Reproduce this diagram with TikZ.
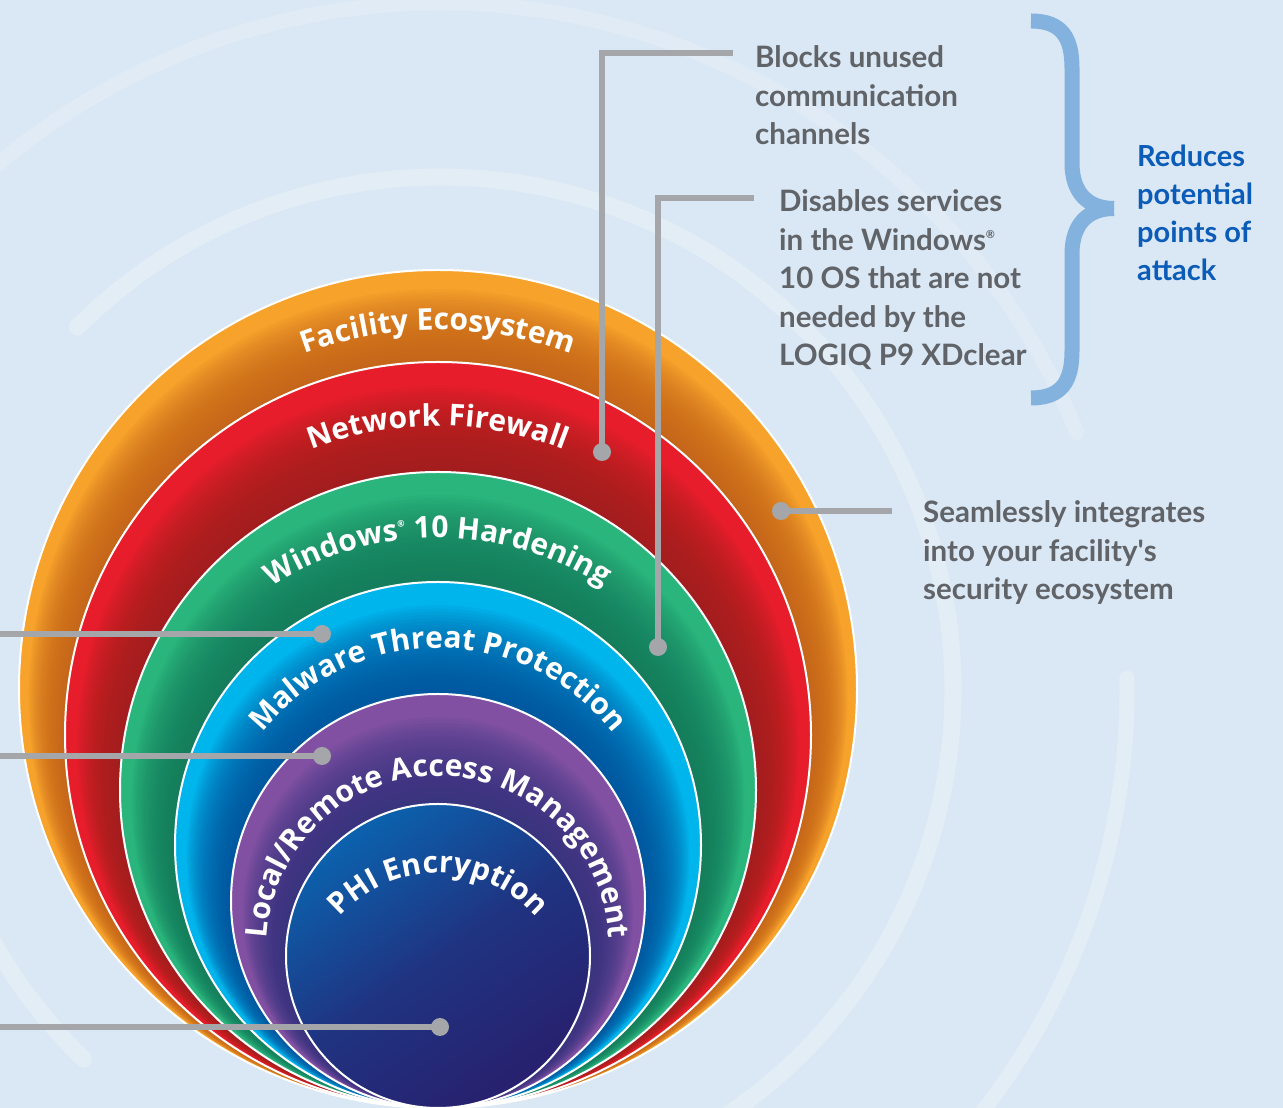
\documentclass[tikz,border=0pt]{standalone}
\usepackage{fontspec}
\setmainfont{Lato}
\newfontfamily\ringfont{Open Sans}
\usetikzlibrary{decorations.text}
\definecolor{bgc}{HTML}{DAE7F4}
\definecolor{orangeL}{HTML}{F6A22B}
\definecolor{orangeD}{HTML}{C4621A}
\definecolor{redL}{HTML}{E81D2B}
\definecolor{redD}{HTML}{9E281E}
\definecolor{greenL}{HTML}{2AB57C}
\definecolor{greenD}{HTML}{157A5C}
\definecolor{blueL}{HTML}{00B4EC}
\definecolor{blueD}{HTML}{0A4E98}
\definecolor{purpleL}{HTML}{8150A2}
\definecolor{purpleD}{HTML}{33347F}
\definecolor{navyL}{HTML}{0B62AE}
\definecolor{navyD}{HTML}{28206E}
\definecolor{lineg}{HTML}{A4A6AA}
\definecolor{textg}{HTML}{606367}
\definecolor{blueT}{HTML}{0A5CB8}
\definecolor{braceC}{HTML}{84B2DF}
\newcommand\shadelayers[3]{%
  \foreach \k in {1,...,28}{%
    \pgfmathsetmacro\myrad{#2+(#1-#2)*0.82*\k/29}%
    \fill[#3, fill opacity=0.068] (438,\myrad) circle[radius=\myrad];%
  }%
}
\newcommand\ringlabel{\ringfont\bfseries\fontsize{30}{30}\selectfont}
\begin{document}
\begin{tikzpicture}[x=1pt,y=1pt,
  conn/.style={draw=lineg, line width=5.5pt},
  dotnode/.style={circle, fill=lineg, minimum size=18pt, inner sep=0pt},
  sidetext/.style={anchor=base west, inner sep=0pt, text=textg,
    font=\bfseries\fontsize{29.5}{38.5}\selectfont},
  bluetext/.style={anchor=base west, inner sep=0pt, text=blueT,
    font=\bfseries\fontsize{29}{38}\selectfont},
  ringedge/.style={draw=white, line width=2pt},
  bgring/.style={draw=white, draw opacity=0.26, line cap=round},
  brace/.style={draw=braceC, line width=15pt},
  ringtext/.style={decorate, decoration={text along path, text align=center, text color=white, text={|\ringlabel|#1}}}
]
\useasboundingbox (0,0) rectangle (1283,1108);
\fill[bgc] (0,0) rectangle (1283,1108);
% faint background rings
\begin{scope}
\clip (0,0) rectangle (1283,1108);
\draw[bgring, line width=17pt] (440,418) ++(135:513) arc[start angle=135, end angle=-62, radius=513];
\draw[bgring, line width=17pt] (440,418) ++(200:513) arc[start angle=200, end angle=226, radius=513];
\draw[bgring, line width=15pt, draw opacity=0.2] (440,418) ++(132:687) arc[start angle=132, end angle=22, radius=687];
\draw[bgring, line width=15pt] (440,418) ++(1:687) arc[start angle=1, end angle=-45, radius=687];
\end{scope}
% nested circles
\fill[orangeL] (438,419) circle[radius=419];
\shadelayers{419}{373}{orangeD}
\draw[ringedge] (438,419) circle[radius=419];
\fill[redL] (438,373) circle[radius=373];
\shadelayers{373}{318}{redD}
\draw[ringedge] (438,373) circle[radius=373];
\fill[greenL] (438,318) circle[radius=318];
\shadelayers{318}{263}{greenD}
\draw[ringedge] (438,318) circle[radius=318];
\fill[blueL] (438,263) circle[radius=263];
\shadelayers{263}{207}{blueD}
\draw[ringedge] (438,263) circle[radius=263];
\fill[purpleL] (438,207) circle[radius=207];
\shadelayers{207}{152}{purpleD}
\draw[ringedge] (438,207) circle[radius=207];
\shade[top color=navyL, bottom color=navyD, middle color=navyD!70!navyL, shading angle=35] (438,152) circle[radius=152];
\draw[ringedge] (438,152) circle[radius=152];
% ring labels
\path[ringtext={Facility Ecosystem}] (438,395) ++(170:383) arc[start angle=170, end angle=10, radius=383];
\path[ringtext={Network Firewall}] (438,335) ++(170:347) arc[start angle=170, end angle=10, radius=347];
\path[ringtext={Windows{\raisebox{13pt}{\fontsize{9}{9}\selectfont ®}} 10 Hardening}] (438,262) ++(175:308) arc[start angle=175, end angle=5, radius=308];
\path[ringtext={Malware Threat Protection}] (438,237) ++(190:223) arc[start angle=190, end angle=-10, radius=223];
\path[ringtext={Local/Remote Access Management}] (438,161) ++(200:171) arc[start angle=200, end angle=-20, radius=171];
\path[ringtext={PHI Encryption}] (438,104) ++(190:131) arc[start angle=190, end angle=-10, radius=131];
% connectors
\node[dotnode] (d1) at (602,656) {};
\coordinate (e1) at (733,1055);
\draw[conn] (d1.center) |- (e1);
\node[dotnode] (d2) at (658,461) {};
\coordinate (e2) at (754,910);
\draw[conn] (d2.center) |- (e2);
\node[dotnode] (d3) at (781,597) {};
\coordinate (e3) at (892,597);
\draw[conn] (d3.center) -- (e3);
\node[dotnode] (d4) at (322,474) {};
\coordinate (e4) at (0,474);
\draw[conn] (e4) -- (d4.center);
\node[dotnode] (d5) at (322,352) {};
\coordinate (e5) at (0,352);
\draw[conn] (e5) -- (d5.center);
\node[dotnode] (d6) at (440,81) {};
\coordinate (e6) at (0,81);
\draw[conn] (e6) -- (d6.center);
% texts
\node[sidetext] (blocks) at (755,1040) {\begin{tabular}[t]{@{}l@{}}Blocks unused\\communication\\channels\end{tabular}};
\node[sidetext] (disables) at (779,896) {\begin{tabular}[t]{@{}l@{}}Disables services\\in the Windows\raisebox{0.42em}{\fontsize{11}{11}\selectfont ®}\\10 OS that are not\\needed by the\\LOGIQ P9 XDclear\end{tabular}};
\node[sidetext] (seamless) at (923,585) {\begin{tabular}[t]{@{}l@{}}Seamlessly integrates\\into your facility\textquotesingle s\\security ecosystem\end{tabular}};
\node[bluetext] (reduces) at (1137,941) {\begin{tabular}[t]{@{}l@{}}Reduces\\potential\\points of\\attack\end{tabular}};
% brace
\draw[brace] (1031,1087) .. controls (1062,1087) and (1072,1070) .. (1072,1040) -- (1072,945) .. controls (1072,915) and (1088,899.5) .. (1114,899.5);
\draw[brace] (1114,899.5) .. controls (1088,899.5) and (1072,884) .. (1072,854) -- (1072,757) .. controls (1072,727) and (1062,710) .. (1031,710);
\end{tikzpicture}
\end{document}
